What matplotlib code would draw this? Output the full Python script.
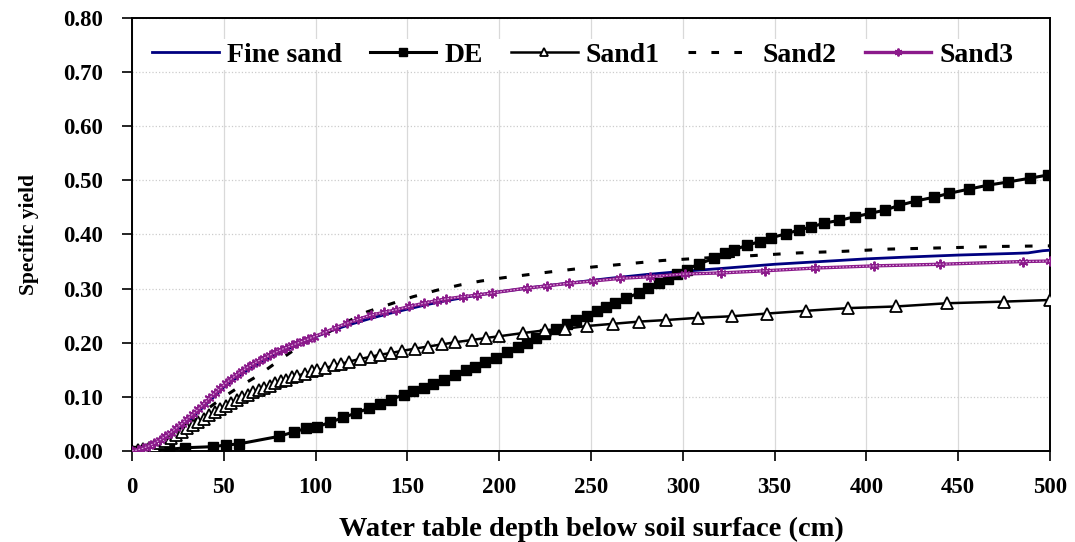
import numpy as np
import matplotlib
matplotlib.use('Agg')
import matplotlib.pyplot as plt

# Fine sand (solid navy line)
fine_x = [0, 10, 20, 30, 40, 50, 60, 70, 80, 90, 100, 110, 120, 130, 140, 150, 160, 170, 180,
          190, 200, 220, 240, 260, 280, 300, 320, 350, 380, 400, 420, 450, 480, 488, 496, 500]
fine_y = [0.0, 0.006, 0.026, 0.053, 0.085, 0.118, 0.143, 0.163, 0.181, 0.197, 0.211, 0.224, 0.235,
          0.245, 0.254, 0.262, 0.27, 0.277, 0.283, 0.289, 0.294, 0.303, 0.311, 0.319, 0.326, 0.332,
          0.337, 0.345, 0.351, 0.355, 0.358, 0.362, 0.365, 0.366, 0.37, 0.371]

# DE (squares)
de_x = [0, 20, 29, 44, 51, 58, 80, 88, 95, 101, 108, 115, 122, 129, 135, 141, 148, 153, 159, 164,
        170, 176, 182, 187, 192, 198, 204, 210, 215, 220, 225, 231, 237, 242, 248, 253, 258, 263,
        269, 276, 281, 287, 292, 297, 302, 309, 317, 323, 328, 335, 342, 348, 356, 363, 370, 377,
        385, 394, 402, 410, 418, 427, 437, 445, 456, 466, 477, 489, 499]
de_y = [0.0, 0.003, 0.006, 0.008, 0.011, 0.013, 0.027, 0.035, 0.042, 0.045, 0.053, 0.062, 0.07,
        0.079, 0.087, 0.095, 0.104, 0.11, 0.117, 0.124, 0.132, 0.14, 0.149, 0.156, 0.164, 0.172,
        0.182, 0.192, 0.2, 0.208, 0.216, 0.225, 0.234, 0.242, 0.25, 0.259, 0.266, 0.274, 0.282,
        0.292, 0.301, 0.31, 0.318, 0.327, 0.335, 0.346, 0.356, 0.365, 0.372, 0.38, 0.387, 0.394,
        0.401, 0.408, 0.414, 0.421, 0.426, 0.433, 0.439, 0.445, 0.454, 0.462, 0.469, 0.476, 0.484,
        0.491, 0.497, 0.504, 0.51]

# Sand1 (open triangles)
s1_x = [0, 3, 6, 9, 12, 15, 18, 21, 24, 27, 30, 33, 36, 39, 42, 45, 48, 51, 54, 57, 60, 63, 66,
        69, 72, 75, 78, 81, 84, 87, 90, 94, 98, 101, 105, 110, 114, 118, 124, 130, 135, 141, 147,
        154, 161, 169, 176, 185, 193, 200, 213, 225, 236, 248, 262, 276, 291, 308, 327, 346, 367,
        390, 416, 444, 475, 500]
s1_y = [0.0, 0.001, 0.003, 0.006, 0.01, 0.014, 0.019, 0.024, 0.03, 0.036, 0.042, 0.048, 0.054,
        0.06, 0.066, 0.072, 0.078, 0.084, 0.089, 0.094, 0.099, 0.104, 0.109, 0.113, 0.117, 0.121,
        0.125, 0.129, 0.132, 0.136, 0.139, 0.143, 0.147, 0.149, 0.153, 0.158, 0.161, 0.165, 0.17,
        0.174, 0.178, 0.181, 0.185, 0.189, 0.193, 0.197, 0.201, 0.205, 0.209, 0.212, 0.218, 0.223,
        0.226, 0.231, 0.235, 0.239, 0.242, 0.246, 0.249, 0.254, 0.259, 0.264, 0.267, 0.273, 0.276,
        0.279]

# Sand2 (dashed)
s2_x = [0, 10, 20, 30, 40, 50, 60, 69, 82, 94, 106, 118, 128, 142, 153, 166, 179, 190, 202, 228,
        251, 264, 289, 314, 338, 363, 388, 412, 450, 474, 500]
s2_y = [0.0, 0.005, 0.02, 0.042, 0.075, 0.1, 0.122, 0.14, 0.172, 0.2, 0.218, 0.24, 0.257, 0.273,
        0.285, 0.297, 0.307, 0.314, 0.32, 0.331, 0.34, 0.344, 0.352, 0.357, 0.361, 0.366, 0.369,
        0.373, 0.376, 0.378, 0.379]

# Sand3 (purple asterisks)
s3_x = [0, 3, 6, 9, 12, 15, 18, 21, 24, 27, 30, 33, 36, 39, 42, 45, 48, 51, 54, 57, 60, 63, 66,
        69, 72, 75, 78, 81, 84, 87, 90, 93, 96, 99, 105, 111, 117, 123, 130, 137, 144, 151, 159,
        166, 171, 180, 188, 196, 215, 226, 238, 251, 266, 282, 301, 321, 345, 372, 404, 440, 485,
        500]
s3_y = [0.0, 0.002, 0.005, 0.009, 0.014, 0.02, 0.027, 0.034, 0.042, 0.05, 0.059, 0.068, 0.077,
        0.087, 0.097, 0.107, 0.116, 0.125, 0.133, 0.141, 0.148, 0.155, 0.161, 0.167, 0.172, 0.177,
        0.182, 0.187, 0.191, 0.195, 0.199, 0.203, 0.207, 0.211, 0.219, 0.228, 0.236, 0.243, 0.251,
        0.256, 0.261, 0.267, 0.273, 0.278, 0.281, 0.285, 0.288, 0.292, 0.301, 0.305, 0.31, 0.314,
        0.319, 0.322, 0.327, 0.329, 0.333, 0.338, 0.342, 0.345, 0.35, 0.351]

x_ticks = [0, 50, 100, 150, 200, 250, 300, 350, 400, 450, 500]
y_ticks = [0.0, 0.1, 0.2, 0.3, 0.4, 0.5, 0.6, 0.7, 0.8]

plt.rcParams['font.family'] = ['Liberation Serif', 'DejaVu Serif']
plt.rcParams['font.weight'] = 'bold'
plt.rcParams['axes.labelweight'] = 'bold'

fig = plt.figure(figsize=(10.75, 5.42), dpi=100)
ax = fig.add_axes([0.1228, 0.1679, 0.854, 0.7989])

ax.plot(fine_x, fine_y, color='#000080', lw=2.0, label='Fine sand', zorder=3)
ax.plot(de_x, de_y, color='black', lw=2.2, marker='s', ms=7, mfc='black', mec='black',
        label='DE', zorder=4)
ax.plot(s1_x, s1_y, color='black', lw=1.8, marker='^', ms=8, mfc='white', mec='black',
        mew=1.3, label='Sand1', zorder=5)
ax.plot(s2_x, s2_y, color='black', lw=2.2, dashes=(2.5, 5.0), label='Sand2', zorder=3)
ax.plot(s3_x, s3_y, color='#8B1A8B', lw=2.4, marker=(6, 2, 0), ms=7, mew=1.4,
        mec='#8B1A8B', label='Sand3', zorder=6)
# light inner pattern of the Sand3 line
ax.plot(s3_x, s3_y, color='#e0b0e0', lw=0.8, ls=(0, (1.5, 1.5)), zorder=6)

ax.set_xlim(0, 500)
ax.set_ylim(0, 0.8)
ax.set_xticks(x_ticks)
ax.set_yticks(y_ticks)
ax.set_yticklabels([f'{v:.2f}' for v in y_ticks])
ax.tick_params(direction='out', length=7, width=1.2, labelsize=16.5)
ax.tick_params(axis='x', pad=12)
ax.tick_params(axis='y', pad=14)

ax.grid(axis='x', color='#d9d9d9', lw=0.9, zorder=0)
ax.grid(axis='y', color='#cccccc', lw=0.9, ls=':', zorder=0)
ax.set_axisbelow(True)
for s in ax.spines.values():
    s.set_linewidth(1.4)

ax.set_xlabel('Water table depth below soil surface (cm)', fontsize=20.5, labelpad=13)
ax.set_ylabel('Specific yield', fontsize=15.5, labelpad=17)

leg = ax.legend(loc='center', bbox_to_anchor=(0.491, 0.915), ncol=5, frameon=True,
                fontsize=20, handlelength=2.4, handletextpad=0.3, columnspacing=1.0,
                borderpad=0.1, markerscale=0.8)
leg.get_frame().set_edgecolor('none')
leg.get_frame().set_facecolor('white')
leg.get_frame().set_alpha(1)
leg.set_zorder(10)

fig.savefig('out.png', dpi=100)
